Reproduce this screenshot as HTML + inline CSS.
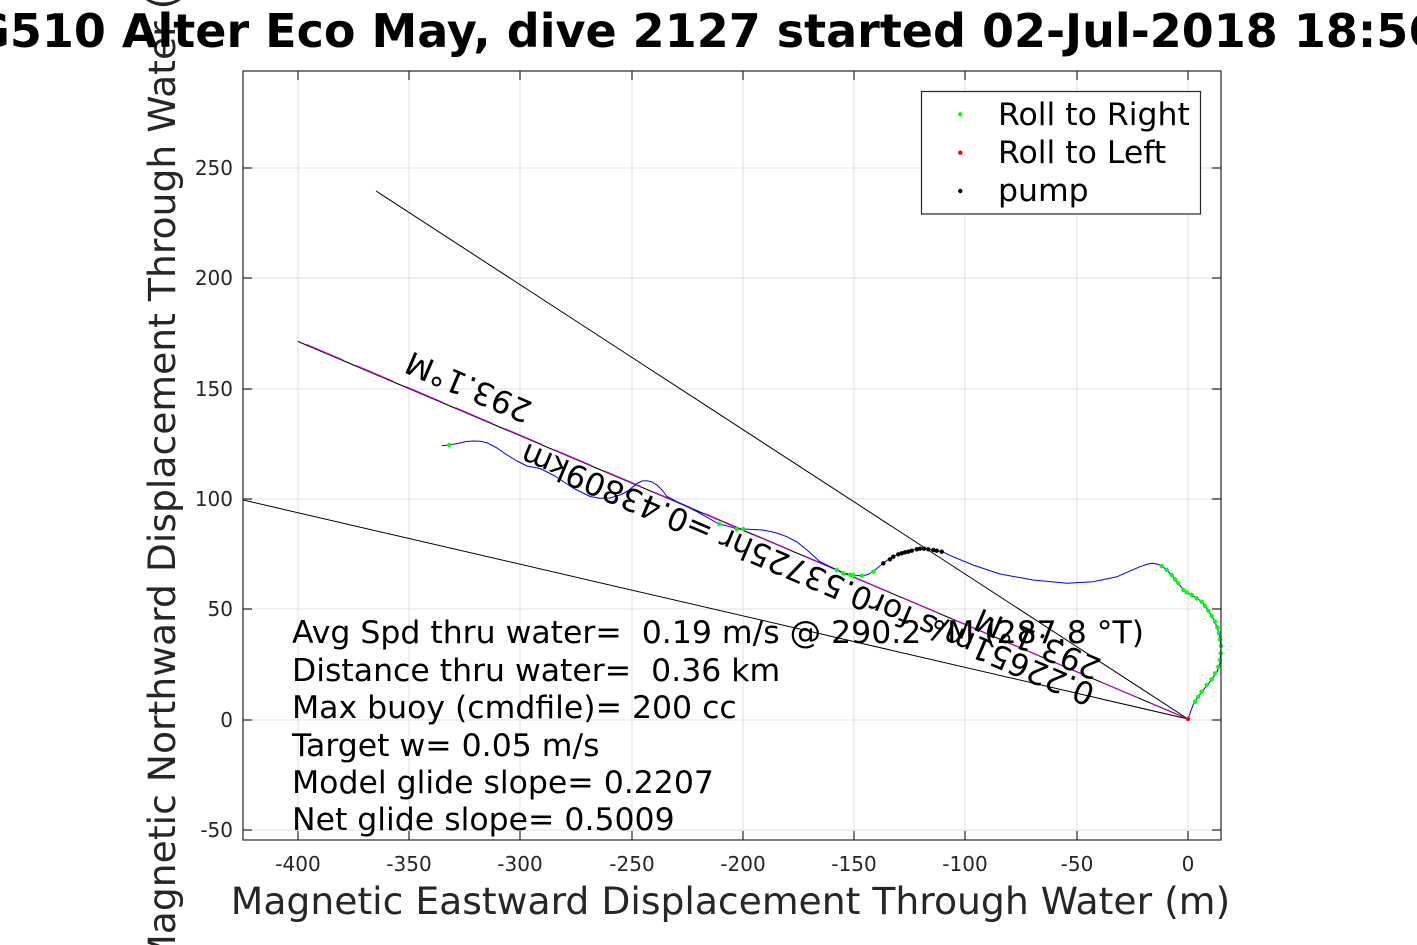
<!DOCTYPE html>
<html>
<head>
<meta charset="utf-8">
<style>
html,body{margin:0;padding:0;background:#fff;}
svg{display:block;}
text{font-family:"DejaVu Sans","Liberation Sans",sans-serif;white-space:pre;}
</style>
</head>
<body>
<svg width="1417" height="945" viewBox="0 0 1417 945" xmlns="http://www.w3.org/2000/svg">
<defs>
<clipPath id="ax"><rect x="243" y="71" width="978" height="769"/></clipPath>
</defs>
<rect x="0" y="0" width="1417" height="945" fill="#fff"/>
<rect x="243" y="71" width="978" height="769" fill="#fff"/>

<!-- grid -->
<g stroke="#dfdfdf" stroke-width="1">
<line x1="298" y1="71" x2="298" y2="840"/>
<line x1="409" y1="71" x2="409" y2="840"/>
<line x1="520" y1="71" x2="520" y2="840"/>
<line x1="632" y1="71" x2="632" y2="840"/>
<line x1="743" y1="71" x2="743" y2="840"/>
<line x1="854" y1="71" x2="854" y2="840"/>
<line x1="965" y1="71" x2="965" y2="840"/>
<line x1="1077" y1="71" x2="1077" y2="840"/>
<line x1="1188" y1="71" x2="1188" y2="840"/>
<line x1="243" y1="168" x2="1221" y2="168"/>
<line x1="243" y1="278" x2="1221" y2="278"/>
<line x1="243" y1="389" x2="1221" y2="389"/>
<line x1="243" y1="499" x2="1221" y2="499"/>
<line x1="243" y1="609" x2="1221" y2="609"/>
<line x1="243" y1="720" x2="1221" y2="720"/>
<line x1="243" y1="830" x2="1221" y2="830"/>
</g>

<g clip-path="url(#ax)">
<!-- cone lines -->
<line x1="1188" y1="719" x2="376" y2="191" stroke="#000" stroke-width="1"/>
<line x1="1188" y1="719" x2="243" y2="500" stroke="#000" stroke-width="1"/>
<line x1="1188" y1="719" x2="298" y2="341.5" stroke="#000" stroke-width="1.1"/>
<line x1="1188" y1="719" x2="296.7" y2="340.3" stroke="#c000c0" stroke-width="1.2" stroke-dasharray="40,14"/>

<!-- track -->
<polyline fill="none" stroke="#0000ff" stroke-width="1" stroke-linejoin="round" points="441.7,445.7 449,445 460,443 466,441.5 473,441 480,441.3 487,442.7 497,448 507,455 517,461 527,466 540,468.5 555,476 573,488 590,496.5 600,498.3 610,498 620,495 627,491.5 637,483.5 642,481 647,480.7 652,482 657,485 662,490 667,496.5 677,501.7 697,511.7 719,524 730,526.7 737,529 743,529 763,530 775,532.5 787,536.7 797,542 807,550 820,561.7 837,570 843,573 853,575 862,575.7 868,574.5 873,571.7 883,563.3 890,558.3 900,553.3 913,550 922,548.3 933,550 942,551.7 953,556.7 973,565 1000,574 1033,580 1067,583.3 1093,581.7 1117,576.7 1140,566.7 1148,564 1153,563.3 1158,564.3 1162,566 1170,573.3 1177,581.7 1185,591.7 1193,596 1202,601.7 1208,610 1215,621.7 1219,633.3 1221,646 1220.5,655 1220,663.3 1217,671.7 1210,681.7 1202,691.7 1197,698.3 1193,705 1188,719"/>
</g>

<!-- green dots -->
<g fill="#00ff00">
<circle cx="449.3" cy="445" r="2.2"/>
<circle cx="719.3" cy="524" r="2.2"/>
<circle cx="736.7" cy="529.3" r="2.2"/>
<circle cx="743.3" cy="529" r="2.2"/>
<circle cx="836.7" cy="570" r="2.2"/>
<circle cx="843.3" cy="573.3" r="2.2"/>
<circle cx="850" cy="574.7" r="2.2"/>
<circle cx="853" cy="575" r="2.2"/>
<circle cx="861.7" cy="575.7" r="2.2"/>
<circle cx="873.3" cy="571.7" r="2.2"/>
<circle cx="1161.7" cy="566" r="2.2"/>
<circle cx="1166.7" cy="570" r="2.2"/>
<circle cx="1171.7" cy="575" r="2.2"/>
<circle cx="1175" cy="579.3" r="2.2"/>
<circle cx="1178.3" cy="583.3" r="2.2"/>
<circle cx="1183.3" cy="590" r="2.2"/>
<circle cx="1186.7" cy="592.3" r="2.2"/>
<circle cx="1191.7" cy="595" r="2.2"/>
<circle cx="1196.7" cy="598.3" r="2.2"/>
<circle cx="1201.7" cy="601.7" r="2.2"/>
<circle cx="1205" cy="606" r="2.2"/>
<circle cx="1208.3" cy="610.7" r="2.2"/>
<circle cx="1211.7" cy="616" r="2.2"/>
<circle cx="1215" cy="621.7" r="2.2"/>
<circle cx="1217.3" cy="627.3" r="2.2"/>
<circle cx="1219" cy="633.3" r="2.2"/>
<circle cx="1220" cy="639.3" r="2.2"/>
<circle cx="1221" cy="646" r="2.2"/>
<circle cx="1220.7" cy="653.3" r="2.2"/>
<circle cx="1220" cy="660" r="2.2"/>
<circle cx="1218.3" cy="666.7" r="2.2"/>
<circle cx="1215" cy="673.3" r="2.2"/>
<circle cx="1211.7" cy="679.3" r="2.2"/>
<circle cx="1206.7" cy="685" r="2.2"/>
<circle cx="1201.7" cy="691.7" r="2.2"/>
<circle cx="1198.3" cy="696.7" r="2.2"/>
<circle cx="1195" cy="701.7" r="2.2"/>
</g>
<!-- pump dots -->
<g fill="#000">
<circle cx="883.3" cy="563.3" r="2.2"/>
<circle cx="890" cy="559.3" r="2.2"/>
<circle cx="893.3" cy="556.7" r="2.2"/>
<circle cx="898.3" cy="554.3" r="2.2"/>
<circle cx="901.7" cy="553.3" r="2.2"/>
<circle cx="905" cy="552.3" r="2.2"/>
<circle cx="908.3" cy="551.7" r="2.2"/>
<circle cx="911.7" cy="550.7" r="2.2"/>
<circle cx="916.7" cy="549.3" r="2.2"/>
<circle cx="920" cy="548.7" r="2.2"/>
<circle cx="924" cy="548.7" r="2.2"/>
<circle cx="928.3" cy="549.3" r="2.2"/>
<circle cx="933.3" cy="550" r="2.2"/>
<circle cx="936.7" cy="550.7" r="2.2"/>
<circle cx="941.7" cy="551.7" r="2.2"/>
</g>
<circle cx="1188" cy="719" r="2.2" fill="#ff0000"/>

<!-- rotated annotations -->
<g font-size="31.5" fill="#000">
<text transform="translate(534,403) rotate(203.1)">293.1°M</text>
<text transform="translate(1097,686) rotate(203.1)">0.22651m/s for0.53725hr =0.43809km</text>
<text transform="translate(1103,660) rotate(203.1)">293.1°M</text>
</g>

<!-- horizontal annotations -->
<g font-size="31.5" fill="#000">
<text x="292" y="643">Avg Spd thru water=  0.19 m/s @ 290.2 °M (287.8 °T)</text>
<text x="292" y="681">Distance thru water=  0.36 km</text>
<text x="292" y="718">Max buoy (cmdfile)= 200 cc</text>
<text x="292" y="756">Target w= 0.05 m/s</text>
<text x="292" y="793">Model glide slope= 0.2207</text>
<text x="292" y="830">Net glide slope= 0.5009</text>
</g>

<!-- axes box and ticks -->
<g stroke="#262626" stroke-width="1.2" fill="none">
<rect x="243" y="71" width="978" height="769"/>
<path d="M298 840v-9M409 840v-9M520 840v-9M632 840v-9M743 840v-9M854 840v-9M965 840v-9M1077 840v-9M1188 840v-9
M298 71v9M409 71v9M520 71v9M632 71v9M743 71v9M854 71v9M965 71v9M1077 71v9M1188 71v9
M243 168h9M243 278h9M243 389h9M243 499h9M243 609h9M243 720h9M243 830h9
M1221 168h-9M1221 278h-9M1221 389h-9M1221 499h-9M1221 609h-9M1221 720h-9M1221 830h-9"/>
</g>

<!-- tick labels -->
<g font-size="20" fill="#262626" text-anchor="middle">
<text x="298" y="871">-400</text>
<text x="409" y="871">-350</text>
<text x="520" y="871">-300</text>
<text x="632" y="871">-250</text>
<text x="743" y="871">-200</text>
<text x="854" y="871">-150</text>
<text x="965" y="871">-100</text>
<text x="1077" y="871">-50</text>
<text x="1188" y="871">0</text>
</g>
<g font-size="20" fill="#262626" text-anchor="end">
<text x="233" y="175">250</text>
<text x="233" y="285">200</text>
<text x="233" y="396">150</text>
<text x="233" y="506">100</text>
<text x="233" y="616">50</text>
<text x="233" y="727">0</text>
<text x="233" y="837">-50</text>
</g>

<!-- axis labels -->
<text x="730.5" y="914" font-size="37.7" fill="#262626" text-anchor="middle">Magnetic Eastward Displacement Through Water (m)</text>
<text transform="translate(175,455) rotate(-90)" font-size="37.7" fill="#262626" text-anchor="middle">Magnetic Northward Displacement Through Water (m)</text>

<!-- legend -->
<rect x="921.5" y="91.5" width="279" height="122.5" fill="#fff" stroke="#262626" stroke-width="1.2"/>
<circle cx="960.3" cy="114.3" r="2.2" fill="#00ff00"/>
<circle cx="960.3" cy="152.7" r="2.2" fill="#ff0000"/>
<circle cx="960.3" cy="191" r="2.2" fill="#000"/>
<g font-size="31.5" fill="#000">
<text x="998" y="125">Roll to Right</text>
<text x="998" y="163">Roll to Left</text>
<text x="998" y="201">pump</text>
</g>

<!-- title -->
<text x="-61" y="47" font-size="46" font-weight="bold" fill="#000">SG510 Alter Eco May, dive 2127 started 02-Jul-2018 18:56</text>
</svg>
</body>
</html>
